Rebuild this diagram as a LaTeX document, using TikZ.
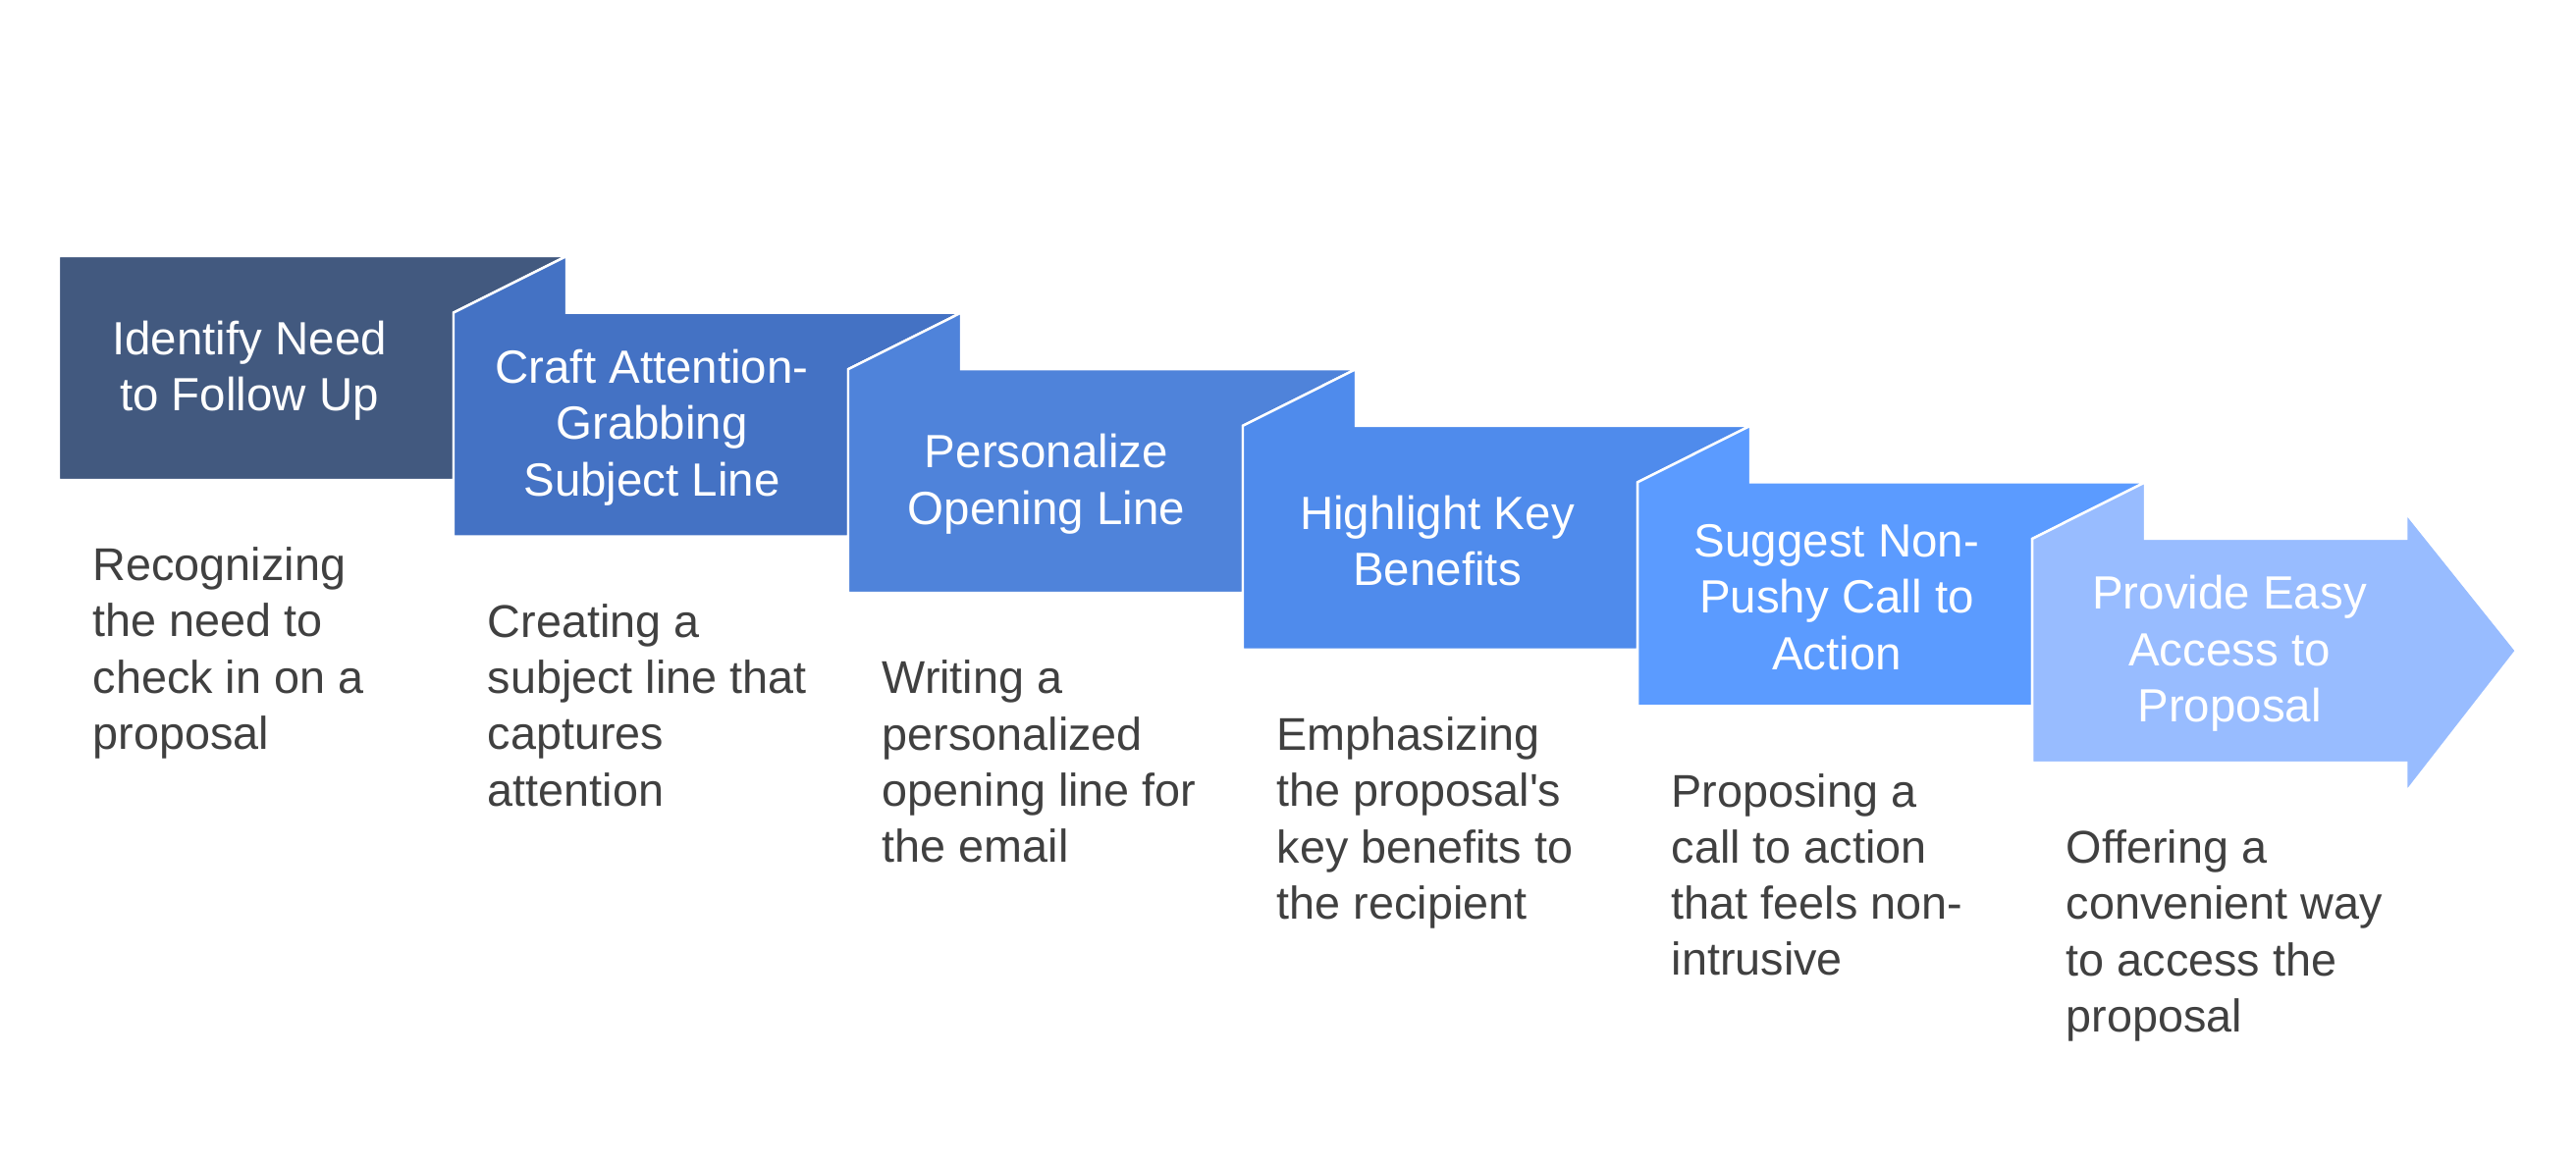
\documentclass[tikz,border=0pt]{standalone}
\usepackage{fontspec}
\setmainfont{Liberation Sans}[Ligatures=TeXOff]
\definecolor{stepA}{RGB}{66,89,127}
\definecolor{stepB}{RGB}{68,114,196}
\definecolor{stepC}{RGB}{79,131,218}
\definecolor{stepD}{RGB}{79,139,236}
\definecolor{stepE}{RGB}{91,155,255}
\definecolor{stepF}{RGB}{152,188,255}
\definecolor{txtgray}{RGB}{64,64,64}

\begin{document}
\begin{tikzpicture}[
  x=0.01cm, y=-0.01cm,
  seg/.style={draw=white, line width=0.7pt},
  lbl/.style={align=center, text=white, inner sep=0pt, font=\fontsize{13.5}{16.3}\selectfont},
  desc/.style={anchor=north west, align=left, text=txtgray, inner sep=0pt, font=\fontsize{13.3}{16.3}\selectfont}
]
\useasboundingbox (0,0) rectangle (2624,1184);
\fill[white] (0,0) rectangle (2624,1184);

% ribbon segments, each one folded behind the next
\filldraw[seg, fill=stepA] (60,261) -- (577,261) -- (462,318.6) -- (462,489) -- (60,489) -- cycle;
\filldraw[seg, fill=stepB] (462,318.6) -- (577,261) -- (577,318.6) -- (979,318.6) -- (864,376.2) -- (864,546.6) -- (462,546.6) -- cycle;
\filldraw[seg, fill=stepC] (864,376.2) -- (979,318.6) -- (979,376.2) -- (1381,376.2) -- (1266,433.8) -- (1266,604.2) -- (864,604.2) -- cycle;
\filldraw[seg, fill=stepD] (1266,433.8) -- (1381,376.2) -- (1381,433.8) -- (1783,433.8) -- (1668,491.4) -- (1668,661.8) -- (1266,661.8) -- cycle;
\filldraw[seg, fill=stepE] (1668,491.4) -- (1783,433.8) -- (1783,491.4) -- (2185,491.4) -- (2070,549) -- (2070,719.4) -- (1668,719.4) -- cycle;
\filldraw[seg, fill=stepF] (2070,549) -- (2185,491.4) -- (2185,549) -- (2451,549) -- (2451,523) -- (2563,663) -- (2451,807) -- (2451,777) -- (2070,777) -- cycle;

\node[lbl] (n1) at (254,378)    {Identify Need\\to Follow Up};
\node[lbl] (n2) at (664,435.6)  {Craft Attention-\\Grabbing\\Subject Line};
\node[lbl] (n3) at (1066,493.2) {Personalize\\Opening Line};
\node[lbl] (n4) at (1464,550.8) {Highlight Key\\Benefits};
\node[lbl] (n5) at (1871,608.4) {Suggest Non-\\Pushy Call to\\Action};
\node[lbl] (n6) at (2271,666)   {Provide Easy\\Access to\\Proposal};

\node[desc] (d1) at (94,557)     {Recognizing\\the need to\\check in on a\\proposal};
\node[desc] (d2) at (496,614.6)  {Creating a\\subject line that\\captures\\attention};
\node[desc] (d3) at (898,672.2)  {Writing a\\personalized\\opening line for\\the email};
\node[desc] (d4) at (1300,729.8) {Emphasizing\\the proposal's\\key benefits to\\the recipient};
\node[desc] (d5) at (1702,787.4) {Proposing a\\call to action\\that feels non-\\intrusive};
\node[desc] (d6) at (2104,845)   {Offering a\\convenient way\\to access the\\proposal};
\end{tikzpicture}
\end{document}
